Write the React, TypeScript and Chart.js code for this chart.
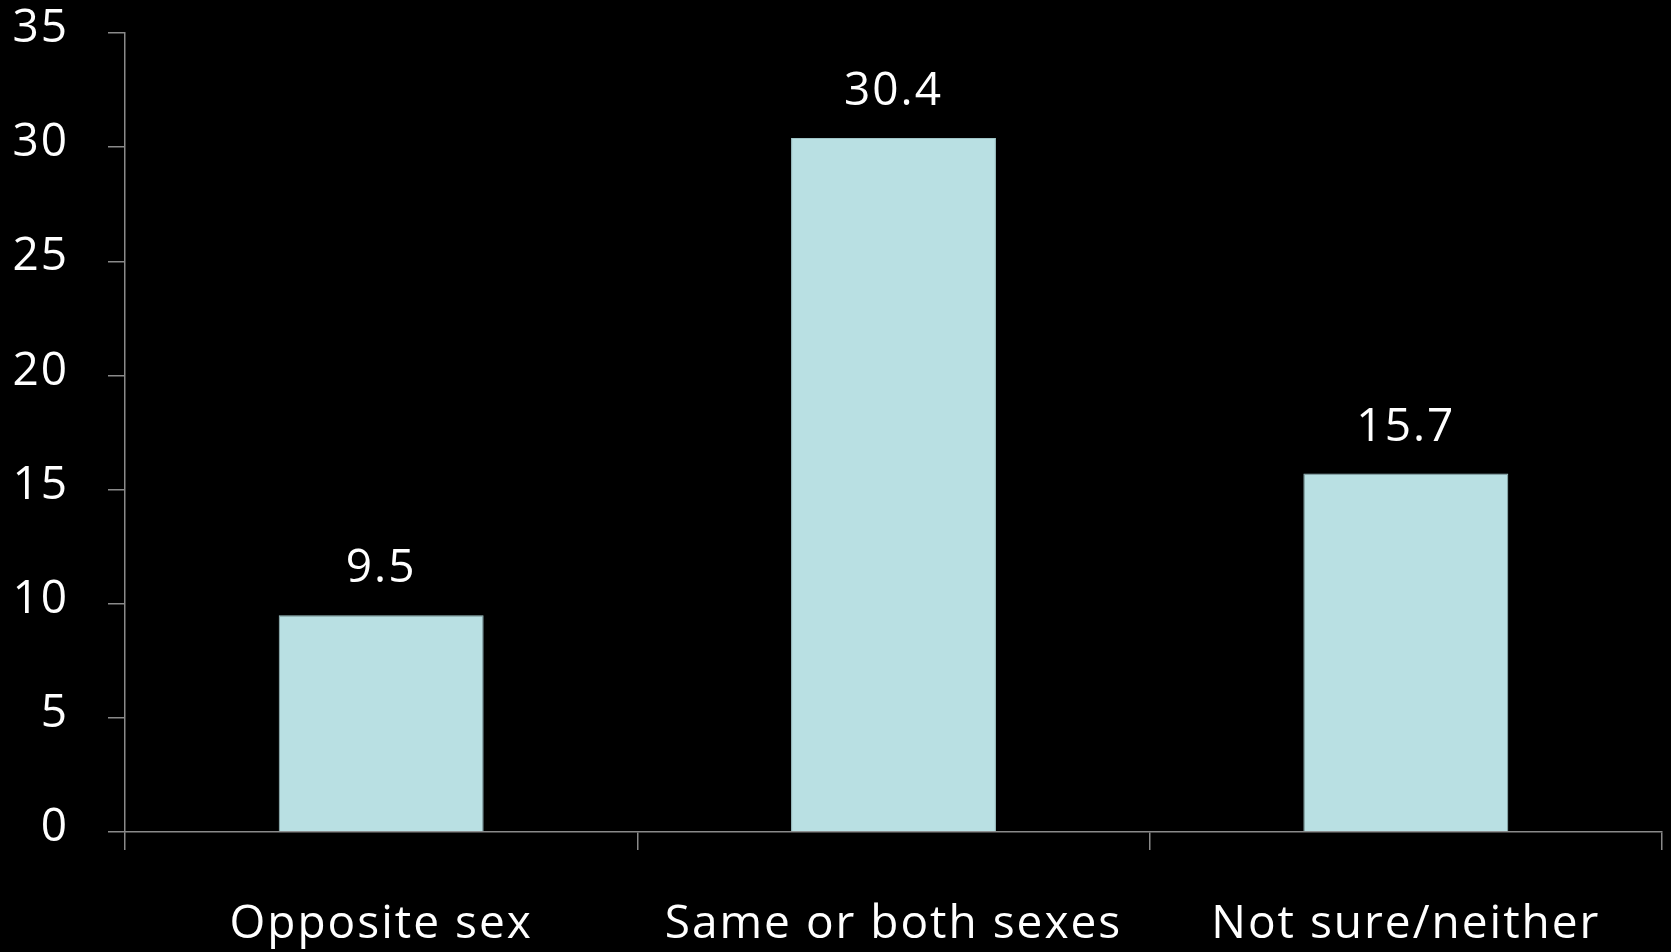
import React, { useEffect, useRef } from "react";
import { Chart, registerables } from "chart.js";

Chart.register(...registerables);

const categories = ["Opposite sex", "Same or both sexes", "Not sure/neither"];
const values = [9.5, 30.4, 15.7];
const valueLabels = ["9.5", "30.4", "15.7"];
const yMin = 0;
const yMax = 35;
const yStep = 5;

const FONT = "'Open Sans', 'DejaVu Sans', sans-serif";
const AXIS_COLOR = "#8a8a8a";
const BAR_COLOR = "#b9e0e3";
const SPACING = "2px";

const spacingPlugin = {
  id: "spacing",
  beforeLayout(chart: any) {
    chart.ctx.letterSpacing = SPACING;
  },
  beforeDraw(chart: any) {
    chart.ctx.letterSpacing = SPACING;
  },
};

const valueLabelPlugin = {
  id: "valueLabels",
  afterDatasetsDraw(chart: any) {
    const ctx = chart.ctx;
    const meta = chart.getDatasetMeta(0);
    ctx.save();
    ctx.letterSpacing = SPACING;
    ctx.font = `46px ${FONT}`;
    ctx.fillStyle = "#ffffff";
    ctx.textAlign = "center";
    ctx.textBaseline = "alphabetic";
    meta.data.forEach((bar: any, i: number) => {
      ctx.fillText(valueLabels[i], bar.x, bar.y - 33);
    });
    ctx.restore();
  },
};

export default function App() {
  const ref = useRef<HTMLCanvasElement | null>(null);
  useEffect(() => {
    if (!ref.current) return;
    const chart = new Chart(ref.current, {
      type: "bar",
      data: {
        labels: categories,
        datasets: [
          {
            data: values,
            backgroundColor: BAR_COLOR,
            borderColor: "#9fc4c7",
            borderWidth: 1,
            barPercentage: 0.4,
            categoryPercentage: 1,
          },
        ],
      },
      options: {
        responsive: false,
        animation: false,
        devicePixelRatio: 1,
        layout: { padding: { left: 0, right: 9, top: 33, bottom: 0 } },
        plugins: { legend: { display: false }, tooltip: { enabled: false } },
        scales: {
          x: {
            grid: {
              drawOnChartArea: false,
              color: AXIS_COLOR,
              lineWidth: 1.5,
              tickLength: 18,
              offset: true,
            },
            border: { display: true, color: AXIS_COLOR, width: 1.5 },
            ticks: {
              color: "#ffffff",
              font: { family: FONT, size: 46 },
              padding: 47,
              maxRotation: 0,
              autoSkip: false,
            },
            afterFit(scale: any) {
              scale.height = 952 - 832;
              scale.paddingLeft = 0;
              scale.paddingRight = 0;
            },
          },
          y: {
            min: yMin,
            max: yMax,
            grid: {
              drawOnChartArea: false,
              color: AXIS_COLOR,
              lineWidth: 1.5,
              tickLength: 17,
            },
            border: { display: true, color: AXIS_COLOR, width: 1.5 },
            ticks: {
              stepSize: yStep,
              color: "#ffffff",
              font: { family: FONT, size: 46 },
              padding: 39,
              labelOffset: -4,
            },
            afterFit(scale: any) {
              scale.width = 125;
              scale.paddingTop = 0;
              scale.paddingBottom = 0;
            },
          },
        },
      },
      plugins: [spacingPlugin, valueLabelPlugin],
    });
    return () => chart.destroy();
  }, []);
  return (
    <div style={{ position: "fixed", left: 0, top: 0, width: 1671, height: 952, background: "#000" }}>
      <canvas ref={ref} width={1671} height={952} style={{ display: "block" }} />
    </div>
  );
}
